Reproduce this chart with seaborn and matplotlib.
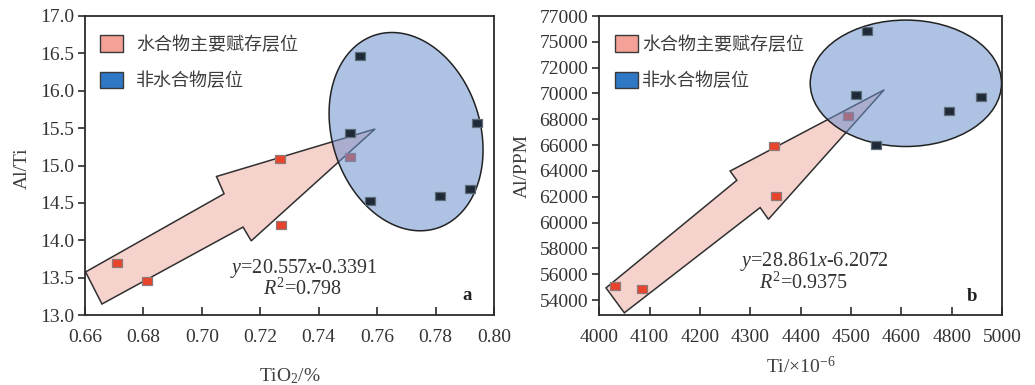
import numpy as np
import pandas as pd
import matplotlib
matplotlib.use("Agg")
import matplotlib.pyplot as plt
import seaborn as sns
from matplotlib.patches import Polygon, Ellipse, Patch
from matplotlib.path import Path

# ---------------- data ----------------
# panel a : TiO2 (%) vs Al/Ti
a_host_tio2 = [0.6711, 0.6812, 0.7268, 0.7271, 0.7508]
a_host_alti = [13.70, 13.45, 15.09, 14.21, 15.12]
a_non_tio2 = [0.7542, 0.7508, 0.7574, 0.7816, 0.7918, 0.7941]
a_non_alti = [16.46, 15.44, 14.52, 14.59, 14.69, 15.57]

# panel b : Ti (x10^-6) vs Al (PPM)
b_host_ti = [4031, 4084, 4348, 4351, 4495]
b_host_al = [55080, 54870, 65930, 62040, 68250]
b_non_ti = [4532, 4510, 4550, 4694, 4759]
b_non_al = [74820, 69900, 65980, 68640, 69690]

legend_labels = ['水合物主要赋存层位', '非水合物层位']
a_xticklabels = ['0.66', '0.68', '0.70', '0.72', '0.74', '0.76', '0.78', '0.80']
a_yticklabels = ['13.0', '13.5', '14.0', '14.5', '15.0', '15.5', '16.0', '16.5', '17.0']
b_xticklabels = ['4000', '4100', '4200', '4300', '4400', '4500', '4600', '4800', '5000']
b_yticklabels = ['54000', '56000', '58000', '60000', '62000', '64000', '66000',
                 '68000', '70000', '72000', '75000', '77000']
a_eq = [r'$y$=20.557$x$-0.3391', r'$R^2$=0.798']
b_eq = [r'$y$=28.861$x$-6.2072', r'$R^2$=0.9375']

# ---------------- style ----------------
sns.set_style("ticks")
plt.rcParams['font.family'] = ['Liberation Serif', 'Noto Sans CJK SC', 'DejaVu Sans']
plt.rcParams['mathtext.fontset'] = 'custom'
plt.rcParams['mathtext.rm'] = 'Liberation Serif'
plt.rcParams['mathtext.it'] = 'Liberation Serif:italic'

TXT = '#333333'
RED_FACE, RED_EDGE = '#E8432B', '#8E7A7A'
DARK_FACE, DARK_EDGE = '#1E2A38', '#5E6B78'
ARROW_FACE = '#F6D2CC'
ELL_FACE = (108/255, 144/255, 206/255, 0.55)
LEG_RED, LEG_BLUE = '#F4A198', '#2F78C6'

rect_marker = Path([(-1, -0.72), (1, -0.72), (1, 0.72), (-1, 0.72), (-1, -0.72)],
                   [Path.MOVETO, Path.LINETO, Path.LINETO, Path.LINETO, Path.CLOSEPOLY])

fig = plt.figure(figsize=(10.35, 3.85), dpi=100)
ax1 = fig.add_axes([85/1035, 1-315/385, 409/1035, 299/385])
ax2 = fig.add_axes([599.3/1035, 1-315/385, 402.7/1035, 299/385])


def style_axes(ax):
    for sp in ax.spines.values():
        sp.set_visible(True)
        sp.set_color('#2b2b2b')
        sp.set_linewidth(1.3)
    ax.tick_params(axis='x', direction='in', length=6, width=1.2, pad=10,
                   labelsize=14, colors='#2b2b2b', labelcolor=TXT)
    ax.tick_params(axis='y', direction='out', length=5, width=1.2, pad=3,
                   labelsize=14, colors='#2b2b2b', labelcolor=TXT)


def scatter_pts(ax, xs, ys, face, edge, z):
    df = pd.DataFrame({'x': xs, 'y': ys})
    sns.scatterplot(data=df, x='x', y='y', ax=ax, marker=rect_marker, s=50,
                    color=face, edgecolor=edge, linewidth=0.9, zorder=z, legend=False)


def add_legend(ax, x0, textpad):
    handles = [Patch(facecolor=LEG_RED, edgecolor='#3a3a3a', linewidth=1.0),
               Patch(facecolor=LEG_BLUE, edgecolor='#3a3a3a', linewidth=1.0)]
    leg = ax.legend(handles, legend_labels, loc='upper left', bbox_to_anchor=(x0, 0.935),
                    frameon=False, borderpad=0, borderaxespad=0,
                    handlelength=1.25, handleheight=1.0, handletextpad=textpad,
                    labelspacing=1.0,
                    prop={'family': ['Noto Sans CJK SC'], 'size': 13})
    for t in leg.get_texts():
        t.set_color('#3c3c3c')


# ---------------- panel a ----------------
style_axes(ax1)
a_arrow = [(0.6602, 13.576), (0.7076, 14.622), (0.7050, 14.853), (0.7593, 15.489),
           (0.7169, 13.992), (0.7141, 14.176), (0.6658, 13.147)]
ax1.add_patch(Polygon(a_arrow, closed=True, facecolor=ARROW_FACE, edgecolor='#303030',
                      linewidth=1.1, zorder=1))
scatter_pts(ax1, a_host_tio2, a_host_alti, RED_FACE, RED_EDGE, 2)
t = np.linspace(0, 2*np.pi, 300)
a_c = (0.7699, 15.453)
a_A = (-0.01065, 1.291)
a_B = (0.0241, 0.304)
ell_pts = np.column_stack([a_c[0] + np.cos(t)*a_A[0] + np.sin(t)*a_B[0],
                           a_c[1] + np.cos(t)*a_A[1] + np.sin(t)*a_B[1]])
ax1.add_patch(Polygon(ell_pts, closed=True, facecolor=ELL_FACE, edgecolor='#222222',
                      linewidth=1.1, zorder=3))
scatter_pts(ax1, a_non_tio2, a_non_alti, DARK_FACE, DARK_EDGE, 4)

a_xt = [float(s) for s in a_xticklabels]
a_yt = [float(s) for s in a_yticklabels]
ax1.set_xlim(a_xt[0], a_xt[-1])
ax1.set_ylim(a_yt[0], a_yt[-1])
ax1.set_xticks(a_xt)
ax1.set_xticklabels(a_xticklabels)
ax1.set_yticks(a_yt)
ax1.set_yticklabels(a_yticklabels)
ax1.set_xlabel(r'TiO$_2$/%', fontsize=14, color='#404040', labelpad=15)
ax1.set_ylabel('Al/Ti', fontsize=14, color='#404040')
ax1.yaxis.set_label_coords(-54/409, 0.49)
ax1.text(0.535, 0.157, a_eq[0], transform=ax1.transAxes, ha='center', va='center',
         fontsize=14.5, color=TXT, zorder=6)
ax1.text(0.533, 0.085, a_eq[1], transform=ax1.transAxes, ha='center', va='center',
         fontsize=14.5, color=TXT, zorder=6)
ax1.text(0.933, 0.065, 'a', transform=ax1.transAxes, ha='center', va='center',
         fontsize=13.5, color='#222222', fontweight='bold', zorder=6)
add_legend(ax1, 15/409, 0.75)

# ---------------- panel b ----------------
style_axes(ax2)
b_arrow = [(4013.3, 54951), (4273.2, 63277), (4259.9, 63996), (4566.1, 70289),
           (4336.0, 60262), (4319.5, 61167), (4049.7, 53018)]
ax2.add_patch(Polygon(b_arrow, closed=True, facecolor=ARROW_FACE, edgecolor='#303030',
                      linewidth=1.1, zorder=1))
scatter_pts(ax2, b_host_ti, b_host_al, RED_FACE, RED_EDGE, 2)
ax2.add_patch(Ellipse((4609, 70790), width=380, height=9790, facecolor=ELL_FACE,
                      edgecolor='#222222', linewidth=1.1, zorder=3))
scatter_pts(ax2, b_non_ti, b_non_al, DARK_FACE, DARK_EDGE, 4)

b_xt = [4000 + 100*i for i in range(len(b_xticklabels))]
b_yt = [54000 + 2000*i for i in range(len(b_yticklabels))]
ax2.set_xlim(b_xt[0], b_xt[-1])
ax2.set_ylim(52850, b_yt[-1])
ax2.set_xticks(b_xt)
ax2.set_xticklabels(b_xticklabels)
ax2.set_yticks(b_yt)
ax2.set_yticklabels(b_yticklabels)
ax2.set_xlabel(r'Ti/×10$^{-6}$', fontsize=14, color='#404040', labelpad=7)
ax2.set_ylabel('Al/PPM', fontsize=14, color='#404040')
ax2.yaxis.set_label_coords(-68/402.7, 0.5)
ax2.text(0.534, 0.18, b_eq[0], transform=ax2.transAxes, ha='center', va='center',
         fontsize=14.5, color=TXT, zorder=6)
ax2.text(0.507, 0.107, b_eq[1], transform=ax2.transAxes, ha='center', va='center',
         fontsize=14.5, color=TXT, zorder=6)
ax2.text(0.925, 0.062, 'b', transform=ax2.transAxes, ha='center', va='center',
         fontsize=13.5, color='#222222', fontweight='bold', zorder=6)
add_legend(ax2, 15.7/402.7, 0.25)

fig.savefig('out.png', dpi=100)
